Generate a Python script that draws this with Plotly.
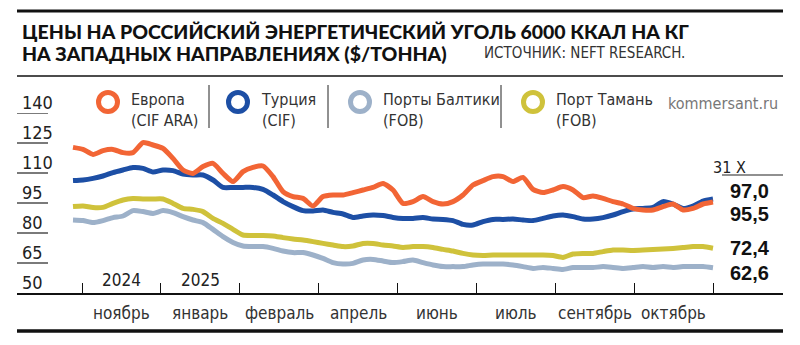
import numpy as np
import plotly.graph_objects as go

# Weekly price samples, $/t (6000 kcal/kg coal)
europe = [122.8, 121.8, 119.3, 121.2, 121.8, 120.2, 120.2, 125.2, 124.0, 122.3, 117.3, 111.5, 109.8, 113.2, 114.8, 109.8,
          105.7, 110.7, 112.8, 113.5, 108.2, 100.7, 98.2, 97.3, 93.5, 98.2, 99.0, 99.0, 100.2, 101.5, 102.8, 104.8,
          101.5, 94.8, 95.7, 98.2, 95.7, 94.5, 95.7, 99.0, 104.0, 106.2, 108.2, 108.2, 105.7, 107.8, 101.8, 100.2,
          101.5, 103.2, 101.5, 97.7, 98.5, 97.3, 95.7, 94.5, 92.3, 91.5, 91.5, 93.2, 94.5, 91.5, 92.3, 94.5, 95.5]
turkey = [106.2, 106.5, 107.3, 108.5, 110.2, 111.5, 112.7, 112.3, 110.5, 111.5, 111.2, 109.5, 109.0, 109.0, 106.5, 102.8,
          102.8, 102.8, 102.8, 101.8, 99.0, 95.7, 93.2, 91.2, 91.0, 91.5, 90.3, 89.5, 87.8, 88.5, 89.0, 88.7,
          87.8, 87.3, 87.3, 87.7, 87.0, 86.8, 86.2, 84.3, 84.0, 85.7, 86.8, 86.8, 87.0, 86.5, 86.2, 87.3,
          88.5, 89.0, 88.2, 87.0, 87.0, 87.7, 89.0, 90.7, 92.0, 92.3, 92.8, 95.7, 94.5, 92.3, 93.5, 96.0, 97.0]
baltic = [86.5, 86.2, 85.2, 86.2, 87.7, 88.5, 91.2, 90.7, 89.8, 91.2, 90.2, 88.2, 86.5, 85.2, 81.8, 78.2,
          75.3, 73.5, 73.2, 73.2, 72.3, 71.0, 70.2, 70.2, 69.0, 67.3, 65.2, 64.5, 64.8, 66.5, 66.8, 66.0,
          65.2, 65.7, 66.5, 65.2, 64.0, 63.2, 63.2, 63.2, 64.0, 64.5, 64.5, 64.5, 64.0, 63.2, 62.3, 62.8,
          62.3, 61.8, 62.7, 62.8, 62.7, 63.2, 62.8, 62.3, 62.7, 63.2, 62.7, 63.2, 62.8, 63.2, 63.3, 63.2, 62.6]
taman = [93.2, 93.5, 92.7, 92.8, 94.8, 96.5, 97.2, 97.0, 97.0, 97.0, 94.8, 92.3, 91.8, 90.7, 87.3, 84.8,
         81.8, 79.0, 78.8, 78.8, 78.5, 77.7, 77.0, 76.5, 75.7, 74.8, 74.0, 73.2, 73.5, 74.8, 74.8, 74.0,
         73.5, 72.8, 73.2, 73.2, 72.7, 71.8, 71.0, 69.8, 69.0, 68.8, 69.0, 69.0, 69.0, 69.0, 69.0, 69.0,
         68.7, 67.8, 69.5, 69.8, 69.8, 70.7, 71.5, 71.5, 71.3, 71.5, 71.8, 72.0, 72.3, 72.7, 73.2, 73.2, 72.4]

series_names = ["Европа<br>(CIF ARA)", "Турция<br>(CIF)", "Порты Балтики<br>(FOB)", "Порт Тамань<br>(FOB)"]
months = ["ноябрь", "январь", "февраль", "апрель", "июнь", "июль", "сентябрь", "октябрь"]
years = ["2024", "2025"]
y_ticks = [50, 65, 80, 95, 110, 125, 140]
last_date = "31 X"

ORANGE = "#F26535"
BLUE = "#1D4FA5"
GREY = "#9DB1C9"
YELLOW = "#CFC23B"

NARROW = "Liberation Sans Narrow, DejaVu Sans Condensed, Roboto, sans-serif"
HEAVY = "Lato, Inter, DejaVu Sans, sans-serif"
BOLD = "Liberation Sans, Arial, sans-serif"

W, H = 800, 345
L, R = 17, 783          # plot area, px
TOP, BOT = 113, 293


def px(xp):
    return (xp - L) / (R - L)


def py(yp):
    return (BOT - yp) / (BOT - TOP)


n = len(europe)
t = np.arange(n)
# tick marks split the timeline into eight equal intervals ending on the last sample
tick_pos = np.linspace(0.9, n - 1, len(months) + 1)

fig = go.Figure()
for vals, col in [(baltic, GREY), (taman, YELLOW), (turkey, BLUE), (europe, ORANGE)]:
    fig.add_trace(go.Scatter(x=t, y=vals, mode="lines",
                             line=dict(color=col, width=5, shape="spline", smoothing=0.6),
                             hoverinfo="skip", showlegend=False))

shapes = []
annotations = []

# rules
shapes.append(dict(type="line", xref="paper", yref="paper", x0=0, x1=1, y0=py(11), y1=py(11),
                   line=dict(color="#111", width=3)))
shapes.append(dict(type="line", xref="paper", yref="paper", x0=0, x1=1, y0=py(76), y1=py(76),
                   line=dict(color="#111", width=1.3)))
shapes.append(dict(type="line", xref="paper", yref="paper", x0=0, x1=1, y0=py(331), y1=py(331),
                   line=dict(color="#111", width=3.5)))

# title and source
annotations.append(dict(xref="paper", yref="paper", x=px(20), y=py(31), xanchor="left", yanchor="middle",
                        text="ЦЕНЫ НА РОССИЙСКИЙ ЭНЕРГЕТИЧЕСКИЙ УГОЛЬ 6000 ККАЛ НА КГ",
                        showarrow=False, font=dict(family=HEAVY, size=19.5, color="#111", weight=900)))
annotations.append(dict(xref="paper", yref="paper", x=px(20), y=py(53), xanchor="left", yanchor="middle",
                        text="НА ЗАПАДНЫХ НАПРАВЛЕНИЯХ ($/ТОННА)",
                        showarrow=False, font=dict(family=HEAVY, size=19.5, color="#111", weight=900)))
annotations.append(dict(xref="paper", yref="paper", x=px(482), y=py(53), xanchor="left", yanchor="middle",
                        text="ИСТОЧНИК: NEFT RESEARCH.",
                        showarrow=False, font=dict(family=NARROW, size=15, color="#333")))

# legend: rings, labels, separators
legend_cx = [108, 238, 360, 533]
for name, col, cx in zip(series_names, [ORANGE, BLUE, GREY, YELLOW], legend_cx):
    r = 9.5
    shapes.append(dict(type="circle", xref="paper", yref="paper",
                       x0=px(cx - r), x1=px(cx + r), y0=py(102 + r), y1=py(102 - r),
                       line=dict(color=col, width=5)))
    annotations.append(dict(xref="paper", yref="paper", x=px(cx + 21), y=py(110), xanchor="left",
                            yanchor="middle", align="left", text=name, showarrow=False,
                            font=dict(family=NARROW, size=16, color="#333")))
for sx in [209, 328, 501]:
    shapes.append(dict(type="line", xref="paper", yref="paper", x0=px(sx), x1=px(sx), y0=py(85), y1=py(128),
                       line=dict(color="#222", width=1)))
annotations.append(dict(xref="paper", yref="paper", x=px(780), y=py(103), xanchor="right", yanchor="middle",
                        text="kommersant.ru", showarrow=False,
                        font=dict(family=NARROW, size=16, color="#777")))

# value scale: labels sitting on short rules
for v in y_ticks:
    if v != y_ticks[0]:
        shapes.append(dict(type="line", xref="paper", yref="y", x0=0, x1=px(48), y0=v, y1=v,
                           line=dict(color="#222", width=1.2)))
    annotations.append(dict(xref="paper", yref="y", x=px(20), y=v, yshift=11, xanchor="left",
                            yanchor="middle", text=str(v), showarrow=False,
                            font=dict(family=NARROW, size=18, color="#222")))

# month and year labels
for i, m in enumerate(months):
    annotations.append(dict(xref="x", yref="paper", x=(tick_pos[i] + tick_pos[i + 1]) / 2, y=py(313),
                            yanchor="middle", text=m, showarrow=False,
                            font=dict(family=NARROW, size=17, color="#333")))
for i, yr in enumerate(years):
    annotations.append(dict(xref="x", yref="paper", x=(tick_pos[i] + tick_pos[i + 1]) / 2, y=py(280),
                            yanchor="middle", text=yr, showarrow=False,
                            font=dict(family=NARROW, size=17, color="#222")))

# last values on the right
annotations.append(dict(xref="paper", yref="paper", x=px(748), y=py(167), yanchor="middle",
                        text=last_date, showarrow=False, font=dict(family=NARROW, size=16, color="#222")))
shapes.append(dict(type="line", xref="paper", yref="paper", x0=px(722), x1=1, y0=py(175), y1=py(175),
                   line=dict(color="#222", width=1.2)))
for vals, dy in [(turkey, 8), (europe, -12), (taman, 0), (baltic, -5)]:
    v = vals[-1]
    annotations.append(dict(xref="paper", yref="y", x=px(728), y=v, yshift=dy, xanchor="left",
                            yanchor="middle", text=f"{v:.1f}".replace(".", ","), showarrow=False,
                            font=dict(family=BOLD, size=20, color="#111", weight="bold")))

x0 = (L - 73) / 10
x1 = (R - 73) / 10
fig.update_layout(
    width=W, height=H,
    margin=dict(l=L, r=W - R, t=TOP, b=H - BOT, pad=0),
    paper_bgcolor="white", plot_bgcolor="white",
    xaxis=dict(range=[x0, x1], showgrid=False, zeroline=False, showline=True, linecolor="#111", linewidth=1.6,
               tickmode="array", tickvals=list(tick_pos), ticks="inside", ticklen=10, tickwidth=1.2,
               tickcolor="#111", showticklabels=False, fixedrange=True),
    yaxis=dict(range=[50, 140], showgrid=False, zeroline=False, showline=False, showticklabels=False,
               fixedrange=True),
    shapes=shapes, annotations=annotations,
)

fig.write_html("out.html", config={"displayModeBar": False})
